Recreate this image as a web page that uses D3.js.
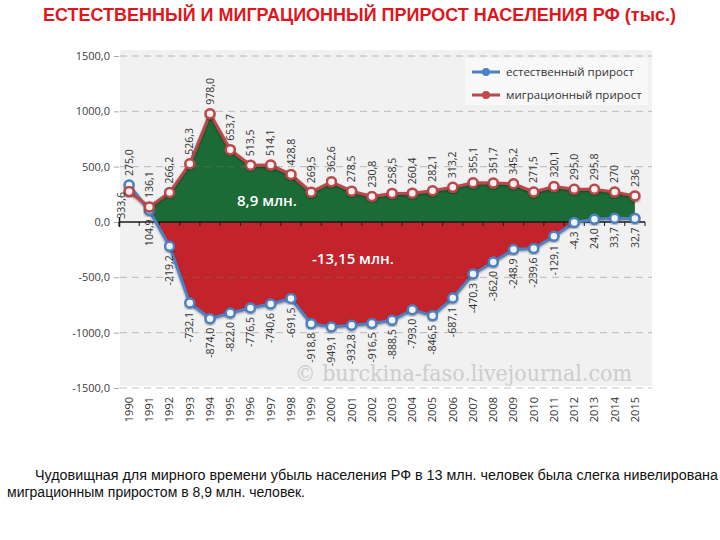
<!DOCTYPE html>
<html><head><meta charset="utf-8">
<script src="https://cdn.jsdelivr.net/npm/d3@7"></script>
<style>
html,body{margin:0;padding:0;background:#fff;}
svg{display:block;}
</style></head>
<body>
<svg id="chart" width="720" height="540"></svg>
<script>
const years = ["1990","1991","1992","1993","1994","1995","1996","1997","1998","1999","2000","2001","2002","2003","2004","2005","2006","2007","2008","2009","2010","2011","2012","2013","2014","2015"];
const natural = [333.6,104.9,-219.2,-732.1,-874.0,-822.0,-776.5,-740.6,-691.5,-918.8,-949.1,-932.8,-916.5,-888.5,-793.0,-846.5,-687.1,-470.3,-362.0,-248.9,-239.6,-129.1,-4.3,24.0,33.7,32.7];
const migration = [275.0,136.1,266.2,526.3,978.0,653.7,513.5,514.1,428.8,269.5,362.6,278.5,230.8,258.5,260.4,282.1,313.2,355.1,351.7,345.2,271.5,320.1,295.0,295.8,270,236];
const naturalLabels = ["333,6","104,9","-219,2","-732,1","-874,0","-822,0","-776,5","-740,6","-691,5","-918,8","-949,1","-932,8","-916,5","-888,5","-793,0","-846,5","-687,1","-470,3","-362,0","-248,9","-239,6","-129,1","-4,3","24,0","33,7","32,7"];
const migrationLabels = ["275,0","136,1","266,2","526,3","978,0","653,7","513,5","514,1","428,8","269,5","362,6","278,5","230,8","258,5","260,4","282,1","313,2","355,1","351,7","345,2","271,5","320,1","295,0","295,8","270","236"];
const yTicks = [1500,1000,500,0,-500,-1000,-1500];
const seriesNames = ["естественный прирост","миграционный прирост"];
const titleText = "ЕСТЕСТВЕННЫЙ И МИГРАЦИОННЫЙ ПРИРОСТ НАСЕЛЕНИЯ РФ (тыс.)";
const noteLines = ["Чудовищная для мирного времени убыль населения РФ в 13 млн. человек была слегка нивелирована","миграционным приростом в 8,9 млн. человек."];
const areaLabels = ["8,9 млн.","-13,15 млн."];
const watermark = "© burckina-faso.livejournal.com";

const svg = d3.select("#chart");
const x = d3.scaleBand().domain(years).range([119, 645]);
const y = d3.scaleLinear().domain([-1500, 1500]).range([388, 56]);
const cx = d => x(d) + x.bandwidth() / 2;
const y0 = y(0);

const blue = "#4f7fbf", red = "#b9474b", green = "#1c6b36", redFill = "#c3242c";

const defs = svg.append("defs");
const f = defs.append("filter").attr("id","sh").attr("x","-10%").attr("y","-10%").attr("width","120%").attr("height","130%");
f.append("feDropShadow").attr("dx",0).attr("dy",1).attr("stdDeviation",1.2).attr("flood-color","#000").attr("flood-opacity",0.4);
defs.append("clipPath").attr("id","above").append("rect").attr("x",0).attr("y",0).attr("width",720).attr("height",y0);
defs.append("clipPath").attr("id","below").append("rect").attr("x",0).attr("y",y0).attr("width",720).attr("height",540-y0);

// title
svg.append("text").attr("x",43).attr("y",21).attr("textLength",633).attr("lengthAdjust","spacingAndGlyphs")
  .attr("font-family","Liberation Sans, Arial, sans-serif").attr("font-weight","bold").attr("font-size",18)
  .attr("fill","#e0161e").text(titleText);

// plot background
svg.append("rect").attr("x",120).attr("y",50).attr("width",532).attr("height",336).attr("fill","#f1f1f1");

// watermark
svg.append("text").attr("x",295).attr("y",381).attr("textLength",337).attr("lengthAdjust","spacingAndGlyphs")
  .attr("font-family","DejaVu Serif, serif").attr("font-size",22).attr("fill","#cdcdcd").text(watermark);

// areas
const idx = d3.range(years.length);
const greenArea = d3.area().x(i => cx(years[i])).y0(i => y(natural[i])).y1(i => y(migration[i]));
svg.append("path").datum(idx.slice(1)).attr("d", greenArea).attr("fill", green).attr("clip-path","url(#above)");
const redArea = d3.area().x(i => cx(years[i])).y0(y0).y1(i => y(natural[i]));
svg.append("path").datum(idx).attr("d", redArea).attr("fill", redFill).attr("clip-path","url(#below)");

// gridlines
svg.append("g").selectAll("line").data(yTicks.filter(v => v !== 0)).join("line")
  .attr("x1",120).attr("x2",652).attr("y1",d=>y(d)).attr("y2",d=>y(d))
  .attr("stroke","#777").attr("stroke-opacity",0.45).attr("stroke-dasharray","7,5").attr("stroke-width",1);

// y axis
const ya = svg.append("g").attr("transform","translate(119,0)")
  .call(d3.axisLeft(y).tickValues(yTicks).tickSize(5).tickPadding(4).tickFormat(d => d.toFixed(1).replace(".", ",")));
ya.select(".domain").remove();
ya.selectAll(".tick line").attr("stroke","#aaa");
ya.selectAll("text").attr("font-family","Open Sans, sans-serif").attr("font-size",11).attr("fill","#404040");

// zero axis with ticks at category boundaries
svg.append("line").attr("x1",119).attr("x2",645).attr("y1",y0).attr("y2",y0).attr("stroke","#1a1a1a").attr("stroke-width",1.5);
svg.append("g").selectAll("line").data(years.concat(["end"])).join("line")
  .attr("x1", d => d === "end" ? 645 : x(d)).attr("x2", d => d === "end" ? 645 : x(d))
  .attr("y1", y0).attr("y2", y0 + 4).attr("stroke","#1a1a1a").attr("stroke-width",1);
svg.append("line").attr("x1",119.5).attr("x2",119.5).attr("y1",y0-5).attr("y2",y0+5).attr("stroke","#1a1a1a").attr("stroke-width",1.5);

// x axis labels
const xa = svg.append("g").attr("transform","translate(0,392)").call(d3.axisBottom(x).tickSize(0));
xa.select(".domain").remove();
xa.selectAll("text").attr("transform","rotate(-90)").attr("text-anchor","end").attr("x",-5).attr("y",0).attr("dy","0.35em")
  .attr("font-family","Open Sans, sans-serif").attr("font-size",11).attr("fill","#333");

// lines
const lineGen = arr => d3.line().x((d,i) => cx(years[i])).y(d => y(d))(arr);
svg.append("path").attr("d", lineGen(natural)).attr("fill","none").attr("stroke",blue).attr("stroke-width",3).attr("filter","url(#sh)");
svg.append("path").attr("d", lineGen(migration)).attr("fill","none").attr("stroke",red).attr("stroke-width",3).attr("filter","url(#sh)");

// markers
svg.append("g").selectAll("circle").data(natural).join("circle")
  .attr("cx",(d,i)=>cx(years[i])).attr("cy",d=>y(d)).attr("r",4.5)
  .attr("fill","#eef4fb").attr("stroke",blue).attr("stroke-width",2.5).attr("filter","url(#sh)");
svg.append("g").selectAll("circle").data(migration).join("circle")
  .attr("cx",(d,i)=>cx(years[i])).attr("cy",d=>y(d)).attr("r",4.5)
  .attr("fill","#fdf0f0").attr("stroke",red).attr("stroke-width",2.5).attr("filter","url(#sh)");

// value labels
const lab = svg.append("g").attr("font-family","Open Sans, sans-serif").attr("font-size",10.5).attr("fill","#333");
migration.forEach((m,i) => {
  const top = Math.min(y(m), y(natural[i]));
  lab.append("text").attr("transform",`translate(${cx(years[i])},${top-9}) rotate(-90)`)
    .attr("dy","0.35em").attr("text-anchor","start").text(migrationLabels[i]);
});
natural.forEach((n,i) => {
  const dx = i === 0 ? -8 : 0;
  const off = i === 0 ? 7 : 9;
  lab.append("text").attr("transform",`translate(${cx(years[i])+dx},${y(n)+off}) rotate(-90)`)
    .attr("dy","0.35em").attr("text-anchor","end").text(naturalLabels[i]);
});

// area labels
svg.append("text").attr("x",237).attr("y",206).attr("font-family","Open Sans, sans-serif").attr("font-weight",600)
  .attr("font-size",15).attr("fill","#fff").text(areaLabels[0]);
svg.append("text").attr("x",312).attr("y",264).attr("font-family","Open Sans, sans-serif").attr("font-weight",600)
  .attr("font-size",15).attr("fill","#fff").text(areaLabels[1]);

// legend
const lg = svg.append("g");
lg.append("rect").attr("x",465).attr("y",58).attr("width",183).attr("height",47).attr("fill","#f8f8f8");
[[blue,"#4f81c4"],[red,"#c0494c"]].forEach((c,k) => {
  const ly = 72 + k*23;
  lg.append("line").attr("x1",472).attr("x2",500).attr("y1",ly).attr("y2",ly).attr("stroke",c[0]).attr("stroke-width",3);
  lg.append("circle").attr("cx",486).attr("cy",ly).attr("r",4).attr("fill",c[1]);
  lg.append("text").attr("x",506).attr("y",ly+4).attr("font-family","Open Sans, sans-serif").attr("font-size",11.5)
    .attr("fill","#333").text(seriesNames[k]);
});

// note
svg.append("text").attr("x",35).attr("y",480).attr("textLength",683).attr("lengthAdjust","spacingAndGlyphs")
  .attr("font-family","Liberation Sans, Arial, sans-serif").attr("font-size",14).attr("fill","#111").text(noteLines[0]);
svg.append("text").attr("x",7).attr("y",497).attr("textLength",298).attr("lengthAdjust","spacingAndGlyphs")
  .attr("font-family","Liberation Sans, Arial, sans-serif").attr("font-size",14).attr("fill","#111").text(noteLines[1]);
</script>
</body></html>
